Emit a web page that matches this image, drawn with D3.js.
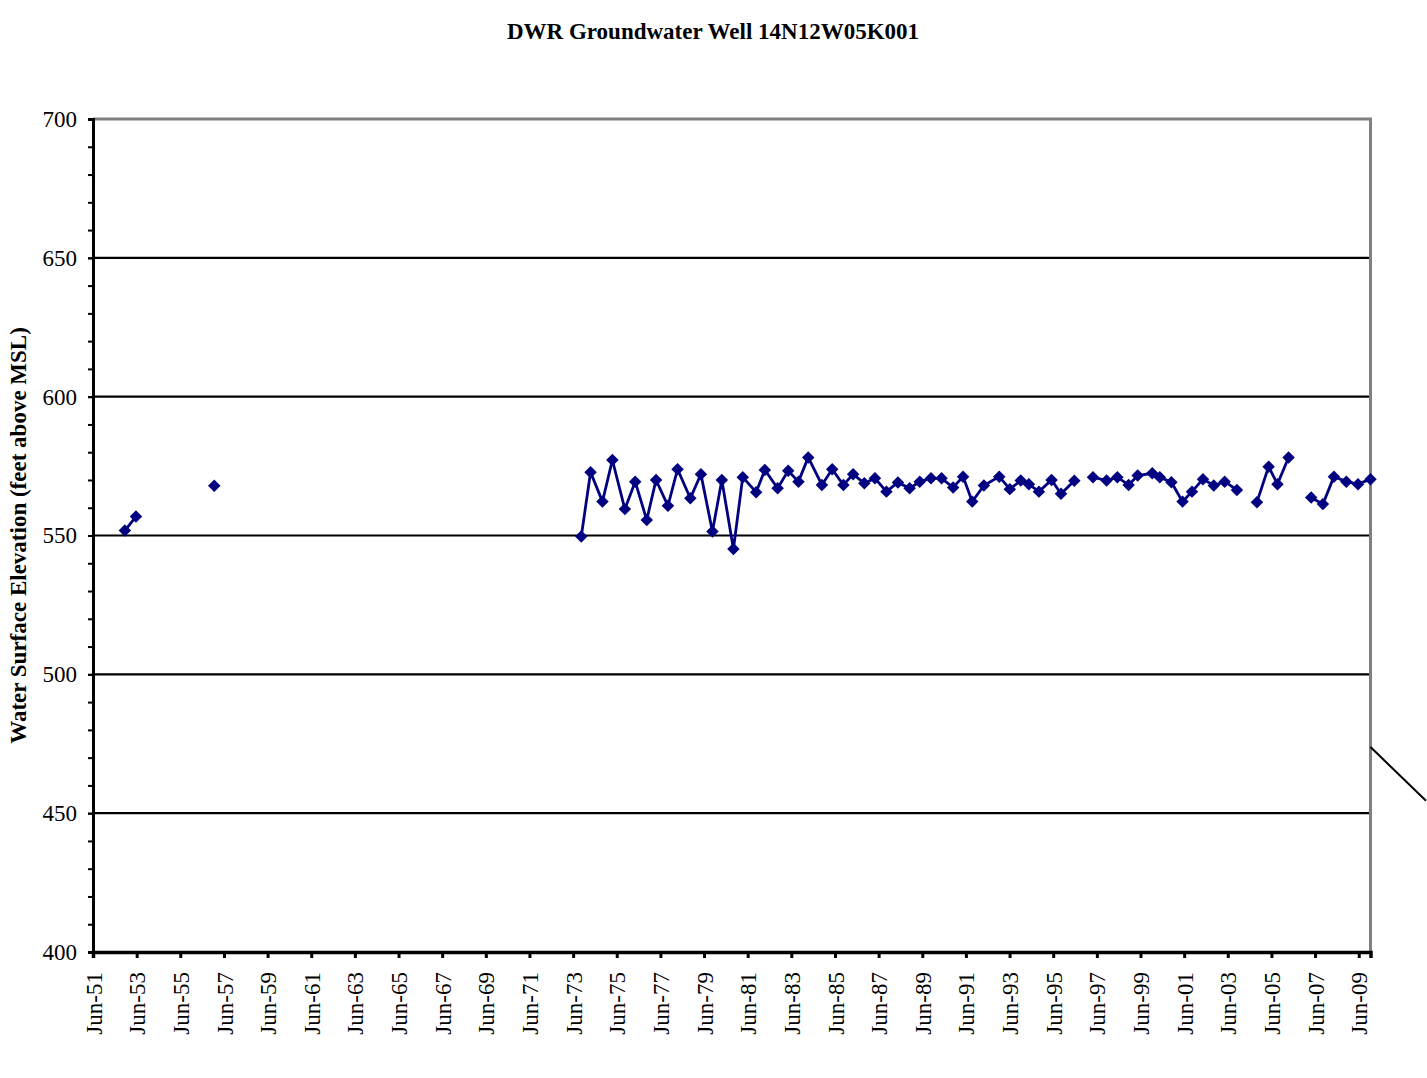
<!DOCTYPE html>
<html>
<head>
<meta charset="utf-8">
<script src="https://cdn.jsdelivr.net/npm/d3@7"></script>
<style>
  html, body { margin: 0; padding: 0; background: #fff; }
  svg { display: block; }
  text { font-family: "Liberation Serif", "Times New Roman", serif; fill: #000; }
</style>
</head>
<body>
<svg id="chart" width="1427" height="1078"></svg>
<script>
// Well hydrograph: measured water surface elevation, ft above MSL.
// null entries mark breaks in the record (no connecting line).
const measureDates = [
  "1952-11-15", "1953-05-20", null,
  "1956-12-20", null,
  "1973-10-15", "1974-03-20", "1974-10-05", "1975-03-20", "1975-10-15",
  "1976-04-05", "1976-10-15", "1977-03-20", "1977-10-05", "1978-03-15",
  "1978-10-15", "1979-04-10", "1979-10-20", "1980-03-25", "1980-10-05",
  "1981-03-10", "1981-10-20", "1982-03-15", "1982-10-15", "1983-04-10",
  "1983-09-28", "1984-03-10", "1984-10-25", "1985-04-15", "1985-10-20",
  "1986-04-01", "1986-10-05", "1987-04-01", "1987-10-10", "1988-04-20",
  "1988-11-01", "1989-04-20", "1989-10-25", "1990-04-20", "1990-10-30",
  "1991-04-15", "1991-09-15", "1992-03-28", "1992-12-10", "1993-06-05",
  "1993-12-05", "1994-04-20", "1994-10-05", "1995-05-05", "1995-10-10",
  "1996-05-20", null,
  "1997-03-28", "1997-11-10", "1998-05-10", "1998-11-15", "1999-04-15",
  "1999-12-15", "2000-04-20", "2000-10-30", "2001-05-05", "2001-10-10",
  "2002-04-12", "2002-10-10", "2003-04-10", "2003-11-01", null,
  "2004-10-01", "2005-04-15", "2005-09-10", "2006-03-15", null,
  "2007-03-28", "2007-10-10", "2008-04-12", "2008-11-05", "2009-05-20",
  "2009-12-15"
];
const elevations = [
  551.8, 556.8, null,
  567.9, null,
  549.6, 572.8, 562.2, 577.2, 559.5,
  569.4, 555.6, 570.0, 560.7, 573.9,
  563.4, 572.1, 551.4, 570.0, 545.1,
  571.0, 565.6, 573.6, 567.0, 573.3,
  569.4, 578.1, 568.2, 573.9, 568.2,
  572.1, 568.8, 570.6, 565.8, 569.1,
  567.0, 569.4, 570.6, 570.6, 567.3,
  571.2, 562.2, 568.0, 571.2, 566.7,
  569.8, 568.5, 565.8, 570.0, 565.0,
  569.7, null,
  571.0, 569.8, 571.0, 568.2, 571.6,
  572.4, 571.0, 569.2, 562.2, 565.8,
  570.3, 568.0, 569.4, 566.4, null,
  562.0, 574.8, 568.5, 578.1, null,
  563.7, 561.3, 571.2, 569.4, 568.5,
  570.3
];

// Axis settings
const xTickLabels = ["Jun-51","Jun-53","Jun-55","Jun-57","Jun-59","Jun-61","Jun-63","Jun-65",
  "Jun-67","Jun-69","Jun-71","Jun-73","Jun-75","Jun-77","Jun-79","Jun-81","Jun-83","Jun-85",
  "Jun-87","Jun-89","Jun-91","Jun-93","Jun-95","Jun-97","Jun-99","Jun-01","Jun-03","Jun-05",
  "Jun-07","Jun-09"];
const yTicks = [400, 450, 500, 550, 600, 650, 700];
const yMinorTicks = d3.range(400, 701, 10);
const xDomainDates = ["1951-06-01", "2009-12-15"];
const yDomain = [400, 700];

// Trailing leader line starting at the right edge of the plot
const leaderDates = ["2009-12-15", "2012-07-01"];
const leaderValues = [473.8, 454.5];

const chartTitle = "DWR Groundwater Well 14N12W05K001";
const yAxisTitle = "Water Surface Elevation (feet above MSL)";

const parseDate = d3.timeParse("%Y-%m-%d");
const monthIdx = {Jan:0,Feb:1,Mar:2,Apr:3,May:4,Jun:5,Jul:6,Aug:7,Sep:8,Oct:9,Nov:10,Dec:11};
function labelToDate(lbl) {
  const [m, yy] = lbl.split("-");
  const y2 = +yy;
  return new Date(y2 >= 50 ? 1900 + y2 : 2000 + y2, monthIdx[m], 1);
}

const data = measureDates.map((d, i) => ({
  date: d ? parseDate(d) : null,
  value: elevations[i]
}));

const margin = { left: 93, right: 56.5, top: 119, bottom: 126 };
const W = 1427, H = 1078;
const svg = d3.select("#chart");
const fontFam = "'Liberation Serif', 'Times New Roman', serif";
const tickFont = "23px";

const x = d3.scaleTime()
  .domain(xDomainDates.map(parseDate))
  .range([margin.left, W - margin.right]);
const y = d3.scaleLinear()
  .domain(yDomain)
  .range([H - margin.bottom, margin.top]);

const navy = "#000080";

// Gridlines at major ticks (between top and bottom)
svg.append("g")
  .selectAll("line")
  .data(yTicks.filter(v => v > yDomain[0] && v < yDomain[1]))
  .join("line")
  .attr("x1", x.range()[0]).attr("x2", x.range()[1])
  .attr("y1", d => y(d)).attr("y2", d => y(d))
  .attr("stroke", "#000").attr("stroke-width", 2.2);

// Plot frame: top and right in gray
svg.append("path")
  .attr("d", `M${x.range()[0]},${y(yDomain[1])}H${x.range()[1]}V${y(yDomain[0])}`)
  .attr("fill", "none").attr("stroke", "#808080").attr("stroke-width", 3);

// Y axis (major + minor ticks on the left)
const yAxisG = svg.append("g").attr("transform", `translate(${x.range()[0]},0)`);
yAxisG.append("g")
  .call(d3.axisLeft(y).tickValues(yMinorTicks).tickSize(5).tickFormat(""))
  .call(g => g.select(".domain").remove())
  .call(g => g.selectAll("line").attr("stroke", "#000").attr("stroke-width", 2));
yAxisG.append("g")
  .call(d3.axisLeft(y).tickValues(yTicks).tickSize(5).tickPadding(11).tickFormat(d3.format("d")))
  .call(g => g.select(".domain").attr("stroke", "#000").attr("stroke-width", 3))
  .call(g => g.selectAll("line").attr("stroke", "#000").attr("stroke-width", 2))
  .call(g => g.selectAll("text")
    .style("font-family", fontFam)
    .style("font-size", tickFont).attr("fill", "#000"));

// X axis with rotated month labels
const xTickDates = xTickLabels.map(labelToDate);
const xAxisG = svg.append("g").attr("transform", `translate(0,${y(yDomain[0])})`);
xAxisG.call(d3.axisBottom(x).tickValues(xTickDates).tickSize(6)
    .tickFormat((d, i) => xTickLabels[i]))
  .call(g => g.select(".domain").attr("stroke", "#000").attr("stroke-width", 3.5))
  .call(g => g.selectAll("line").attr("stroke", "#000").attr("stroke-width", 3))
  .call(g => g.selectAll("text")
    .style("font-family", fontFam)
    .style("font-size", tickFont).attr("fill", "#000")
    .attr("transform", "rotate(-90)")
    .attr("text-anchor", "end")
    .attr("x", -20).attr("y", 0).attr("dy", "0.35em"));

// Series line, broken where the record has gaps
const line = d3.line()
  .defined(d => d.date !== null && d.value !== null)
  .x(d => x(d.date)).y(d => y(d.value));
svg.append("path")
  .datum(data)
  .attr("d", line)
  .attr("fill", "none").attr("stroke", navy).attr("stroke-width", 2.8)
  .attr("stroke-linejoin", "miter");

// Diamond markers
svg.append("g")
  .selectAll("path")
  .data(data.filter(d => d.date !== null && d.value !== null))
  .join("path")
  .attr("transform", d => `translate(${x(d.date)},${y(d.value)}) rotate(45)`)
  .attr("d", d3.symbol().type(d3.symbolSquare).size(78))
  .attr("fill", navy);

// Leader line
svg.append("line")
  .attr("x1", x(parseDate(leaderDates[0]))).attr("y1", y(leaderValues[0]))
  .attr("x2", x(parseDate(leaderDates[1]))).attr("y2", y(leaderValues[1]))
  .attr("stroke", "#000").attr("stroke-width", 2);

// Titles
svg.append("text")
  .attr("x", 713).attr("y", 39)
  .attr("text-anchor", "middle")
  .style("font-size", "23px").style("font-weight", "bold")
  .text(chartTitle);

svg.append("text")
  .attr("transform", `translate(26,${(y(yDomain[0]) + y(yDomain[1])) / 2}) rotate(-90)`)
  .attr("text-anchor", "middle")
  .style("font-size", "23px").style("font-weight", "bold")
  .text(yAxisTitle);
</script>
</body>
</html>
